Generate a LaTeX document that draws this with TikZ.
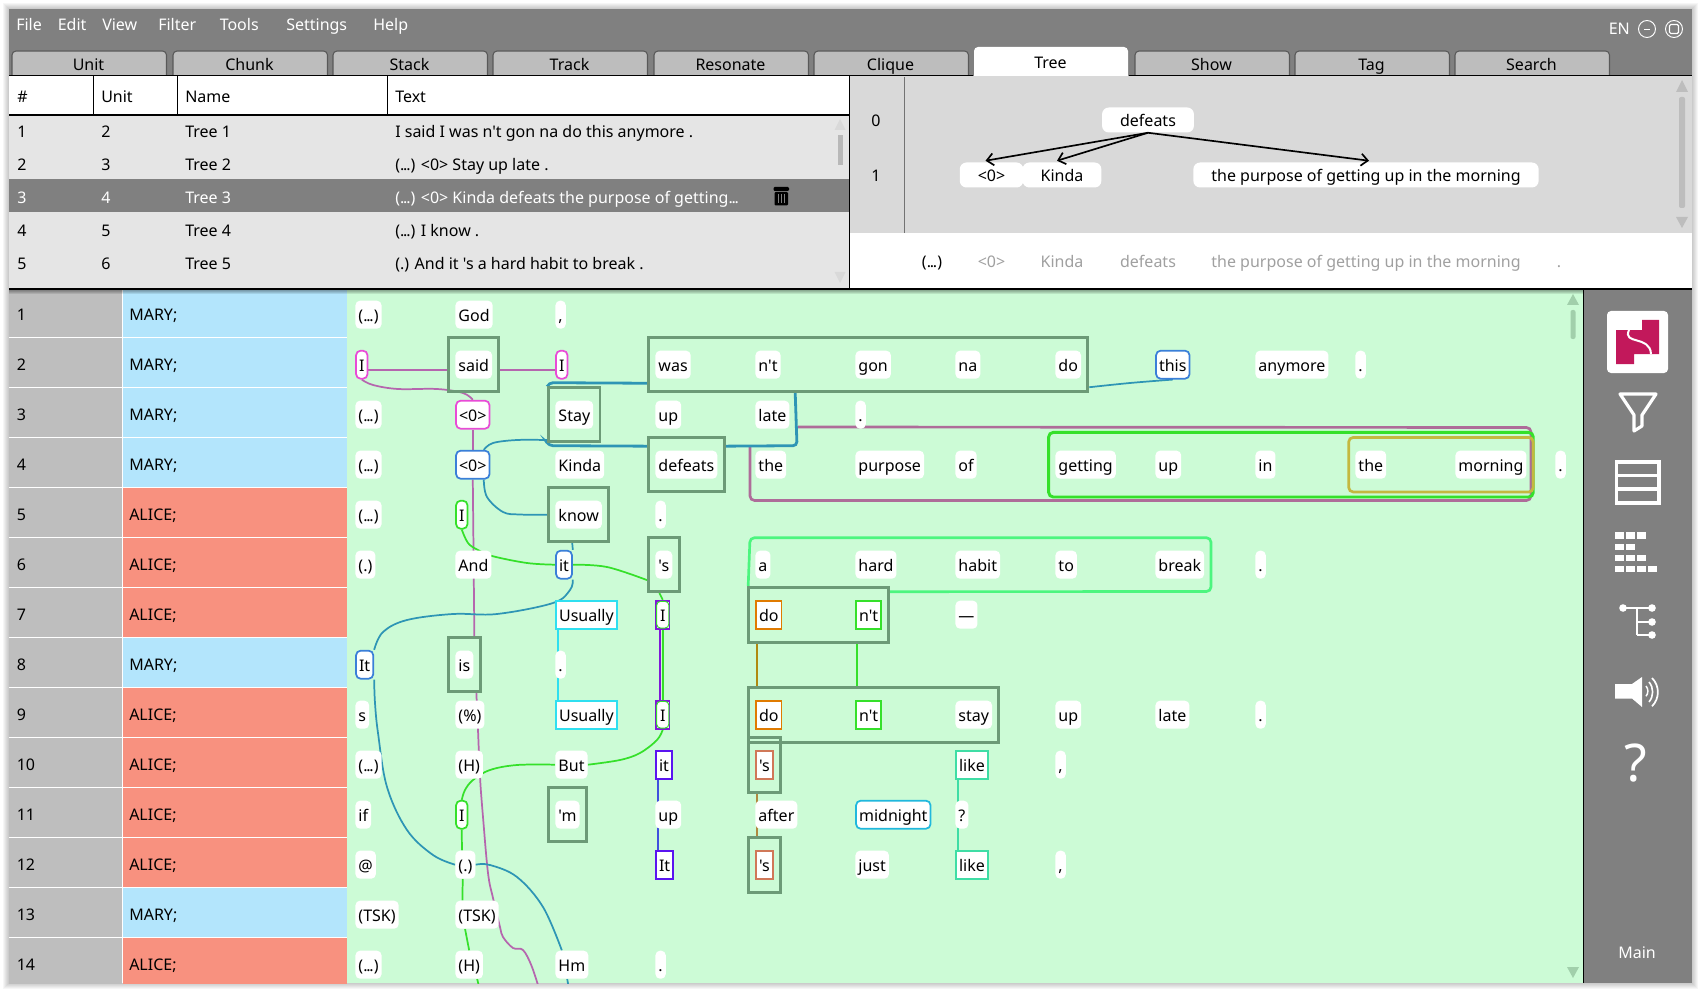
\documentclass[tikz,border=0pt]{standalone}
\usepackage{fontspec}
\usetikzlibrary{fit,arrows.meta,calc}
\newfontfamily\uifont{Noto Sans}
\newcommand\wfont{\uifont\fontsize{12}{14}\selectfont}
\newcommand\dd{(.\kern-.9pt.\kern-.9pt.)}
\definecolor{wingrey}{HTML}{808080}
\definecolor{tabgrey}{HTML}{BDBDBD}
\definecolor{mgreen}{HTML}{CCFBD6}
\definecolor{spblue}{HTML}{B3E5FC}
\definecolor{spred}{HTML}{F8917F}
\definecolor{colgrey}{HTML}{BEBEBE}
\definecolor{rowgrey}{HTML}{E5E5E5}
\definecolor{treegrey}{HTML}{D9D9D9}
\definecolor{chunkc}{HTML}{6C9A77}
\definecolor{mauve}{HTML}{B566AE}
\definecolor{mauved}{HTML}{AE6C99}
\definecolor{teal}{HTML}{2E95B5}
\definecolor{grn}{HTML}{35E02A}
\definecolor{pinkc}{HTML}{E84BD6}
\definecolor{bluec}{HTML}{3A7FD8}
\definecolor{cyanc}{HTML}{2FDFF0}
\definecolor{purp}{HTML}{8018D8}
\definecolor{indig}{HTML}{5A14F0}
\definecolor{indigl}{HTML}{4050DD}
\definecolor{oran}{HTML}{E07B00}
\definecolor{salm}{HTML}{D07858}
\definecolor{tealg}{HTML}{3FDDA5}
\definecolor{midn}{HTML}{20B8DD}
\definecolor{olive}{HTML}{C4B840}
\definecolor{brght}{HTML}{4CF57F}
\definecolor{gold}{HTML}{B08A10}
\definecolor{goldl}{HTML}{B08A40}
\definecolor{crim}{HTML}{C2185B}
\definecolor{logrey}{HTML}{A0A0A0}
\pgfdeclarelayer{back}
\pgfdeclarelayer{conn}
\pgfsetlayers{back,conn,main}
\tikzset{
  wrdbox/.style={fill=white,rounded corners=3.4pt,anchor=west,inner xsep=2.25pt,inner ysep=0pt,minimum height=21pt,text height=12.4pt,text depth=2.8pt,font=\wfont,text=black},
  sqw/.style={sharp corners,draw=#1,line width=1.3pt},
  sqi/.style={sharp corners,draw=purp,line width=1.3pt,inner xsep=3pt},
  rdw/.style={draw=#1,line width=1.3pt},
  chunkbox/.style={draw=chunkc,line width=2.2pt,inner xsep=4.9pt,inner ysep=9.4pt},
  linkc/.style={draw=#1,line width=1.3pt},
  linkt/.style={draw=#1,line width=2.1pt,rounded corners=3pt},
  spanb/.style={draw=#1,line width=2pt,rounded corners=3.4pt},
  uitext/.style={font=\wfont,inner sep=0pt,text height=12.8pt,text depth=2.5pt},
  uil/.style={uitext,anchor=west},
  treebox/.style={fill=white,rounded corners=5pt,inner xsep=13.5pt,inner ysep=0pt,minimum height=18.75pt,text height=12.8pt,text depth=2.5pt,font=\wfont},
  treearrow/.style={draw=black,line width=1.25pt,-{Straight Barb[length=5pt,width=9pt]}},
  tabline/.style={fill=tabgrey,draw=black!65,line width=.8pt},
  smoothp/.style={smooth,tension=.6},
}
\newcommand\wrd[4][]{\node[wrdbox,#1] (w#2-#3) at ({355.2+100*#3},{264.7+50*#2}) {#4};}
\newcommand\tabat[3]{\draw[tabline,rounded corners=3pt] (#1,75.5)--(#1,51)--({#1+154.5},51)--({#1+154.5},75.5);
  \node[uitext,text=black] (tab#3) at ({#1+76.5},64) {#2};}
\newcommand\rowlab[3]{\node[uil] (n#1) at (16.5,{264+50*#1}) {#1};
  \node[uil] (s#1) at (129,{264+50*#1}) {#2;};
  \begin{pgfonlayer}{back}
  \begin{scope}
  \clip (9,289) rectangle (347,983);
  \fill[colgrey] (9,{237.6+50*#1}) rectangle (121.5,{286.6+50*#1});
  \fill[#3] (122.5,{237.6+50*#1}) rectangle (347,{286.6+50*#1});
  \end{scope}
  \end{pgfonlayer}}
\newcommand\tblrow[6][black]{\node[uil,text=#1] (ta#2) at (17,{98+33*#2}) {#2};
  \node[uil,text=#1] (tb#2) at (101,{98+33*#2}) {#3};
  \node[uil,text=#1] (tc#2) at (185,{98+33*#2}) {#4};
  \node[uil,text=#1] (td#2) at (395,{98+33*#2}) {#5};}
\begin{document}
\begin{tikzpicture}[x=0.75pt,y=-0.75pt]
\useasboundingbox (0,0) rectangle (1699,991);
\begin{pgfonlayer}{back}
\fill[white] (0,0) rectangle (1699,991);
\foreach \d in {1,...,6}{\fill[black,opacity=.035] ({9-\d},{9-\d}) rectangle ({1692+\d},{983+\d});}
\fill[wingrey] (9,9) rectangle (1692,983);
\fill[white] (9,289) rectangle (347,983);
\fill[mgreen] (347,289) rectangle (1584,983);
\fill[white] (9,76) rectangle (850,115);
\fill[rowgrey] (9,115) rectangle (850,289);
\fill[wingrey] (9,179) rectangle (850,212);
\fill[treegrey] (850,76) rectangle (1692,233);
\fill[white] (850,233) rectangle (1692,289);
\end{pgfonlayer}
% menu
\node[uil,text=white] (mfile) at (16,24) {File};
\node[uil,text=white] (medit) at (57.5,24) {Edit};
\node[uil,text=white] (mview) at (102,24) {View};
\node[uil,text=white] (mfilter) at (158,24) {Filter};
\node[uil,text=white] (mtools) at (219.5,24) {Tools};
\node[uil,text=white] (msettings) at (286,24) {Settings};
\node[uil,text=white] (mhelp) at (373,24) {Help};
\node[uil,text=white] (men) at (1608.5,28) {EN};
\draw[white,line width=.7pt] (1647,29) circle[radius=8.5];
\draw[white,line width=.6pt] (1644,29) -- (1650,29);
\draw[white,line width=.7pt] (1674,29) circle[radius=8.5];
\draw[white,line width=.9pt,rounded corners=1pt] (1669.5,24.5) rectangle (1678.5,33.5);
% tabs
\tabat{12}{Unit}{a}\tabat{173}{Chunk}{b}\tabat{333}{Stack}{c}\tabat{493}{Track}{d}\tabat{654}{Resonate}{e}\tabat{814}{Clique}{f}
\tabat{1135}{Show}{h}\tabat{1295}{Tag}{i}\tabat{1455}{Search}{j}
\fill[white,rounded corners=3pt] (974,76)--(974,47)--(1128,47)--(1128,76);
\node[uitext,text=black] (tabg) at (1050.5,62) {Tree};
\draw[black,line width=1pt] (9,75.5) -- (973,75.5) (1129,75.5) -- (1692,75.5);
% table
\node[uil] (h1) at (17,96) {\#};
\node[uil] (h2) at (101,96) {Unit};
\node[uil] (h3) at (185,96) {Name};
\node[uil] (h4) at (395,96) {Text};
\draw[black,line width=.6pt] (93.5,76) -- (93.5,115) (177.5,76) -- (177.5,115) (387.5,76) -- (387.5,115);
\draw[black,line width=1pt] (9,115) -- (850,115);
\tblrow{1}{2}{Tree 1}{I said I was n't gon na do this anymore .}{}
\tblrow{2}{3}{Tree 2}{\dd{} <0> Stay up late .}{}
\tblrow[white]{3}{4}{Tree 3}{\dd{} <0> Kinda defeats the purpose of getting.\kern-.9pt.\kern-.9pt.}{}
\tblrow{4}{5}{Tree 4}{\dd{} I know .}{}
\tblrow{5}{6}{Tree 5}{(.) And it 's a hard habit to break .}{}
% trash icon
\fill[black,rounded corners=.8pt] (773.5,187) rectangle (789,191);
\fill[black,rounded corners=.8pt] (774.5,192) rectangle (788,205.5);
\draw[wingrey,line width=.6pt] (778,194) -- (778,203.5) (781.3,194) -- (781.3,203.5) (784.6,194) -- (784.6,203.5);
% scrollbars
\fill[treegrey] (834.5,130) -- (840,119) -- (845.5,130) -- cycle;
\fill[treegrey!85!black] (838,135) rectangle (843,165);
\fill[treegrey] (834.5,272) -- (840,283) -- (845.5,272) -- cycle;
\fill[tabgrey] (1676,92) -- (1682,80) -- (1688,92) -- cycle;
\fill[tabgrey,rounded corners=1.5pt] (1679,97) rectangle (1685,208);
\fill[tabgrey] (1676,217) -- (1682,228) -- (1688,217) -- cycle;
\fill[chunkc!45!mgreen] (1567,305) -- (1573,294) -- (1579,305) -- cycle;
\fill[chunkc!45!mgreen,rounded corners=1.5pt] (1570.5,310) rectangle (1575.5,339);
\fill[chunkc!45!mgreen] (1567,967) -- (1573,978) -- (1579,967) -- cycle;
% tree panel
\draw[black!55,line width=.6pt] (904.5,77) -- (904.5,233);
\node[uitext] (lv0) at (876,120) {0};
\node[uitext] (lv1) at (876,175) {1};
\node[treebox] (tdef) at (1148,120) {defeats};
\node[treebox] (tz) at (991.5,175) {<0>};
\node[treebox] (tk) at (1062,175) {Kinda};
\node[treebox] (tp) at (1366,175) {the purpose of getting up in the morning};
\draw[treearrow] (tdef.south) -- ([shift={(-6,-1.5)}]tz.north);
\draw[treearrow] (tdef.south) -- ([shift={(-5,-1.5)}]tk.north);
\draw[treearrow] (tdef.south) -- ([shift={(3,-1.5)}]tp.north);
\node[uitext] (b0) at (932,261) {\dd};
\node[uitext,text=logrey] (b1) at (991.5,261) {<0>};
\node[uitext,text=logrey] (b2) at (1062,261) {Kinda};
\node[uitext,text=logrey] (b3) at (1148,261) {defeats};
\node[uitext,text=logrey] (b4) at (1366,261) {the purpose of getting up in the morning};
\node[uitext,text=logrey] (b5) at (1559,261) {.};
\draw[black,line width=.8pt] (849.5,76) -- (849.5,289);
% rows
\rowlab{1}{MARY}{spblue}\rowlab{2}{MARY}{spblue}\rowlab{3}{MARY}{spblue}\rowlab{4}{MARY}{spblue}
\rowlab{5}{ALICE}{spred}\rowlab{6}{ALICE}{spred}\rowlab{7}{ALICE}{spred}\rowlab{8}{MARY}{spblue}
\rowlab{9}{ALICE}{spred}\rowlab{10}{ALICE}{spred}\rowlab{11}{ALICE}{spred}\rowlab{12}{ALICE}{spred}
\rowlab{13}{MARY}{spblue}\rowlab{14}{ALICE}{spred}
% words
\wrd{1}{0}{\dd}\wrd{1}{1}{God}\wrd{1}{2}{,}
\wrd[rdw=pinkc]{2}{0}{I}\wrd{2}{1}{said}\wrd[rdw=pinkc]{2}{2}{I}\wrd{2}{3}{was}\wrd{2}{4}{n't}\wrd{2}{5}{gon}\wrd{2}{6}{na}\wrd{2}{7}{do}\wrd[rdw=bluec]{2}{8}{this}\wrd{2}{9}{anymore}\wrd{2}{10}{.}
\wrd{3}{0}{\dd}\wrd[rdw=pinkc]{3}{1}{<0>}\wrd{3}{2}{Stay}\wrd{3}{3}{up}\wrd{3}{4}{late}\wrd{3}{5}{.}
\wrd{4}{0}{\dd}\wrd[rdw=bluec]{4}{1}{<0>}\wrd{4}{2}{Kinda}\wrd{4}{3}{defeats}\wrd{4}{4}{the}\wrd{4}{5}{purpose}\wrd{4}{6}{of}\wrd{4}{7}{getting}\wrd{4}{8}{up}\wrd{4}{9}{in}\wrd{4}{10}{the}\wrd{4}{11}{morning}\wrd{4}{12}{.}
\wrd{5}{0}{\dd}\wrd[rdw=grn]{5}{1}{I}\wrd{5}{2}{know}\wrd{5}{3}{.}
\wrd{6}{0}{(.)}\wrd{6}{1}{And}\wrd[rdw=bluec]{6}{2}{it}\wrd{6}{3}{'s}\wrd{6}{4}{a}\wrd{6}{5}{hard}\wrd{6}{6}{habit}\wrd{6}{7}{to}\wrd{6}{8}{break}\wrd{6}{9}{.}
\wrd[sqw=cyanc]{7}{2}{Usually}\wrd[sqi]{7}{3}{I}\wrd[sqw=oran]{7}{4}{do}\wrd[sqw=grn]{7}{5}{n't}\wrd{7}{6}{—}
\wrd[rdw=bluec]{8}{0}{It}\wrd{8}{1}{is}\wrd{8}{2}{.}
\wrd{9}{0}{s}\wrd{9}{1}{(\%)}\wrd[sqw=cyanc]{9}{2}{Usually}\wrd[sqi]{9}{3}{I}\wrd[sqw=oran]{9}{4}{do}\wrd[sqw=grn]{9}{5}{n't}\wrd{9}{6}{stay}\wrd{9}{7}{up}\wrd{9}{8}{late}\wrd{9}{9}{.}
\wrd{10}{0}{\dd}\wrd{10}{1}{(H)}\wrd{10}{2}{But}\wrd[sqw=indig]{10}{3}{it}\wrd[sqw=salm]{10}{4}{'s}\wrd[sqw=tealg]{10}{6}{like}\wrd{10}{7}{,}
\wrd{11}{0}{if}\wrd[rdw=grn]{11}{1}{I}\wrd{11}{2}{'m}\wrd{11}{3}{up}\wrd{11}{4}{after}\wrd[rdw=midn]{11}{5}{midnight}\wrd{11}{6}{?}
\wrd{12}{0}{@}\wrd{12}{1}{(.)}\wrd[sqw=indig]{12}{3}{It}\wrd[sqw=salm]{12}{4}{'s}\wrd{12}{5}{just}\wrd[sqw=tealg]{12}{6}{like}\wrd{12}{7}{,}
\wrd{13}{0}{(TSK)}\wrd{13}{1}{(TSK)}
\wrd{14}{0}{\dd}\wrd{14}{1}{(H)}\wrd{14}{2}{Hm}\wrd{14}{3}{.}
% green rounded inner marks on the two I
\node[draw=grn,line width=.7pt,rounded corners=3pt,inner sep=-1.1pt,fit=(w7-3)] (gi7) {};
\node[draw=grn,line width=.7pt,rounded corners=3pt,inner sep=-1.1pt,fit=(w9-3)] (gi9) {};
% chunks
\node[chunkbox,fit=(w2-1)] (csaid) {};
\node[chunkbox,fit=(w2-3)(w2-7)] (cwas) {};
\node[chunkbox,fit=(w3-2)] (cstay) {};
\node[chunkbox,fit=(w4-3)] (cdef) {};
\node[chunkbox,fit=(w5-2)] (cknow) {};
\node[chunkbox,fit=(w6-3)] (cs6) {};
\node[chunkbox,fit=(w7-4)(w7-5)] (cdo7) {};
\node[chunkbox,fit=(w8-1)] (cis) {};
\node[chunkbox,fit=(w9-4)(w9-6)] (cdo9) {};
\node[chunkbox,fit=(w10-4)] (cs10) {};
\node[chunkbox,fit=(w11-2)] (cm) {};
\node[chunkbox,fit=(w12-4)] (cs12) {};
% spans
\node[spanb=grn,line width=2.2pt,inner xsep=4.9pt,inner ysep=13.5pt,fit=(w4-7)(w4-11)] (sget) {};
\node[spanb=olive,inner xsep=4.9pt,inner ysep=9.75pt,fit=(w4-10)(w4-11)] (sthe) {};
\coordinate (mstart) at (750,446);
\coordinate (mend) at (798,427);
\coordinate (endE) at (541,995);
\coordinate (endN) at (570,995);
\coordinate (endP) at (481,995);
% connectors
\begin{pgfonlayer}{conn}
\begin{scope}
\clip (347,289) rectangle (1584,983);
\draw[linkc=mauve] ([yshift=-3.75pt]w2-0.east) -- ([yshift=-3.75pt]csaid.west);
\draw[linkc=mauve] ([yshift=-3.75pt]csaid.east) -- ([yshift=-3.75pt]w2-2.west);
\draw[linkc=mauve] plot[smoothp] coordinates {(w2-0.south) (373,385) (398,389) (437,389) (463,393) (w3-1.north)};
\draw[linkc=mauve] (w3-1.south) -- (w4-1.north);
\draw[linkc=mauve] (w4-1.south) -- ([xshift=7.5pt]cis.north);
\draw[linkc=mauve] plot[smoothp] coordinates {([xshift=9pt]cis.south) (478,730) (480,777) (483,817) (488,873) (493,898) (500,927) (503,937) (513,948) (523,950) (532,967) (endE)};
\draw[spanb=mauved] (mstart) -- (750,500.5) -- (1531,500.5) -- (1531,427.5) -- (mend);
\draw[linkt=teal] ([yshift=-13.9pt]cwas.west) -- (549,382.7) -- (cstay.north west);
\draw[linkt=teal] ([shift={(148,0)}]cwas.south west) -- (797,445.7) -- ([yshift=13.9pt]cdef.east);
\draw[linkt=teal] ([yshift=13.9pt]cdef.west) -- (549,445.7) -- (cstay.south west);
\draw[linkc=teal] plot[smoothp] coordinates {([yshift=-19pt]cstay.west) (517,440) (493,443) ([xshift=8.25pt]w4-1.north)};
\draw[linkc=teal] plot[smoothp] coordinates {([xshift=8.25pt]w4-1.south) (487,497) (503,512) (520,514.5) (cknow.west)};
\draw[linkc=teal] ([shift={(25,0)}]cknow.south west) -- (w6-2.north east);
\draw[linkc=teal] plot[smoothp] coordinates {(w6-2.south east) (570,590) (553,603) (497,614) (453,614) (407,620) (383,632) (w8-0.north east)};
\draw[linkc=teal] plot[smoothp] coordinates {(w2-8.south) (1130,383) ([yshift=-16.9pt]cwas.east)};
\draw[linkc=teal] plot[smoothp] coordinates {(w8-0.south east) (375,703) (378,733) (387,787) (407,830) (433,855) (w12-1.west)};
\draw[linkc=teal] plot[smoothp] coordinates {(w12-1.east) (490,865) (517,877) (543,907) ([xshift=-7.5pt]w14-2.north)};
\draw[linkc=teal] ([xshift=-3.5pt]w14-2.south) -- (endN);
\draw[linkc=grn] plot[smoothp] coordinates {(w5-1.south) (468,543) (478,550) (492,556) (527,563) (w6-2.west)};
\draw[linkc=grn] plot[smoothp] coordinates {(w6-2.east) (607,567) ([yshift=-11.6pt]cs6.west)};
\draw[linkc=grn] ([xshift=-3.4pt]cs6.south) -- (w7-3.north);
\draw[linkc=grn] (w7-3.south) -- (w9-3.north);
\draw[linkc=purp] ([xshift=-2.25pt]w7-3.south) -- ([xshift=-2.25pt]w9-3.north);
\draw[linkc=grn] plot[smoothp] coordinates {(w9-3.south) (657,740) (640,753) (620,760) (w10-2.east)};
\draw[linkc=grn] plot[smoothp] coordinates {(w10-2.west) (517,765) (490,770) (473,780) (465,790) (w11-1.north)};
\draw[linkc=grn] (w11-1.south) -- ([xshift=-2.6pt]w12-1.north);
\draw[linkc=grn] ([xshift=-2pt]w12-1.south) -- ([xshift=-11pt]w13-1.north);
\draw[linkc=grn] ([xshift=-9pt]w13-1.south) -- (w14-1.north);
\draw[linkc=grn] ([xshift=6pt]w14-1.south) -- (endP);
\draw[linkc=cyanc] ([xshift=2.25pt]w7-2.south west) -- ([xshift=2.25pt]w9-2.north west);
\draw[linkc=indigl] ([xshift=2.25pt]w10-3.south west) -- ([xshift=2.25pt]w12-3.north west);
\draw[linkc=gold] ([shift={(10,0)}]cdo7.south west) -- ([shift={(10,0)}]cdo9.north west);
\draw[linkc=grn] ([shift={(110,0)}]cdo7.south west) -- ([shift={(110,0)}]cdo9.north west);
\draw[linkc=goldl] ([shift={(10,0)}]cs10.south west) -- ([shift={(10,0)}]cs12.north west);
\draw[linkc=tealg] ([xshift=2.25pt]w10-6.south west) -- ([xshift=2.25pt]w12-6.north west);
\draw[spanb=brght] ([xshift=.75pt]cdo7.north west) -- (750,537.7) -- (1211,537.7) -- (1211,591.5) -- ([yshift=17.25pt]cdo7.east);
\end{scope}
\end{pgfonlayer}
% shadow under the upper panels
\foreach \d in {1,...,5}{\fill[black,opacity=.09] (9,289) rectangle (1584,{289+\d});}
\draw[black,line width=.8pt] (9,289) -- (1692,289);
\draw[black,line width=.8pt] (1583.5,289) -- (1583.5,983);
% sidebar icons
\fill[white,rounded corners=3pt] (1607,311) rectangle (1668,373);
\fill[crim] (1616,330) -- (1642,330) -- (1642,320) -- (1659,320) -- (1659,354) -- (1634,354) -- (1634,364) -- (1616,364) -- cycle;
\draw[white,line width=1.5pt] (1629,330) .. controls (1622,345) and (1650,335) .. (1651,354);
\draw[white,line width=2.4pt,line join=round] (1620,394) -- (1656,394) -- (1642,415) -- (1642,426) -- (1634,431) -- (1634,415) -- cycle;
\draw[white,line width=2.4pt] (1616.5,462) rectangle (1659,503) (1616.5,475.5) -- (1659,475.5) (1616.5,489) -- (1659,489);
\foreach \xa/\xb/\ya/\yb in {1615/1624/532/539,1626/1634.5/532/539,1637/1646/532/539,
  1615/1624/544/550,1626/1634.5/544/550,
  1615/1624/555/561,1626/1634.5/555/561,1637/1646/555/561,
  1615/1624/565.5/572,1626/1634.5/565.5/572,1637/1646/565.5/572,1648/1657/565.5/572}{\fill[white] (\xa,\ya) rectangle (\xb,\yb);}
\draw[white,line width=1.5pt] (1623,608) -- (1652,608) (1637,608) -- (1637,635) (1637,622) -- (1652,622) (1637,635) -- (1652,635);
\foreach \cx/\cy in {1623/608,1652/608,1652/622,1652/635}{\fill[white] (\cx,\cy) circle[radius=3.8];}
\fill[white] (1615,684) -- (1632,684) -- (1642,677) -- (1642,707) -- (1632,698.5) -- (1615,698.5) -- cycle;
\draw[white,line width=1.1pt] (1646,686) arc[start angle=-40,end angle=40,radius=8] ;
\draw[white,line width=1.2pt] (1649,682) arc[start angle=-40,end angle=40,radius=15.5] ;
\draw[white,line width=1.3pt] (1652,678) arc[start angle=-45,end angle=45,radius=20] ;
\node[inner sep=0pt,text=white,font=\uifont\fontsize{39}{40}\selectfont] (qm) at (1636,763) {?};
\node[uitext,text=white] (mainl) at (1637,951.5) {Main};
\end{tikzpicture}
\end{document}
